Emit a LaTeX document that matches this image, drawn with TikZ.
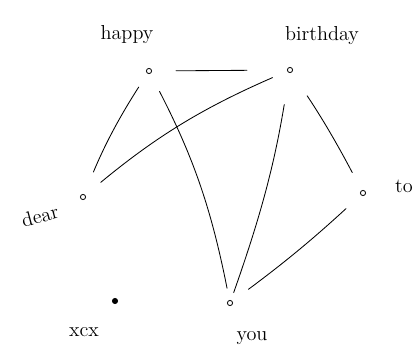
\documentclass[tikz,border=0pt]{standalone}
\usepackage{tikz}
\usetikzlibrary{positioning}

\begin{document}
\begin{tikzpicture}[x=0.025cm,y=-0.025cm,font=\Large,
  vtx/.style={circle,draw,line width=0.6pt,inner sep=0pt,minimum size=1.3mm},
  word/.style={inner sep=1pt},
  edge/.style={line width=0.6pt,line cap=round}]
\useasboundingbox (0,0) rectangle (417,363);
% vertices
\node[vtx] (happy)    at (149,71)  {};
\node[vtx] (birthday) at (290,70)  {};
\node[vtx] (dear)     at (83,197)  {};
\node[vtx] (to)       at (363,193) {};
\node[vtx] (you)      at (230,303) {};
\node[vtx,fill] (xcx) at (115,301) {};
% labels
\node[word] at (127,35)  {happy};
\node[word] at (322,36)  {birthday};
\node[word,rotate=15] at (40,216) {dear};
\node[word] at (404,186) {to};
\node[word] at (252,338) {you};
\node[word] at (84,332)  {xcx};
% connectors
\draw[edge,shorten <=6mm,shorten >=10mm] (happy) -- (birthday);
\draw[edge,shorten <=4mm,shorten >=6mm] (happy) to[bend right=5] (dear);
\draw[edge,shorten <=5mm,shorten >=3mm] (happy) to[bend left=8] (you);
\draw[edge,shorten <=4mm,shorten >=5mm] (birthday) to[bend right=8] (dear);
\draw[edge,shorten <=8mm,shorten >=2mm] (birthday) to[bend left=5] (you);
\draw[edge,shorten <=7mm,shorten >=5mm] (birthday) to[bend left=3] (to);
\draw[edge,shorten <=5mm,shorten >=5mm] (to) to[bend left=3] (you);
\end{tikzpicture}
\end{document}
